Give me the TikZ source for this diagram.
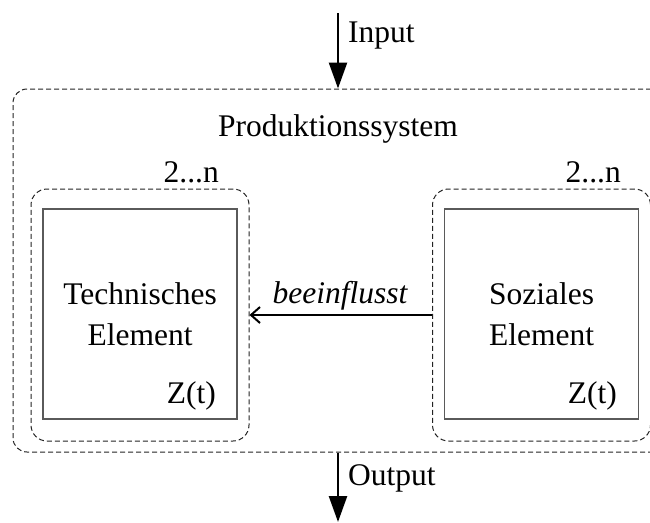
\documentclass[tikz,border=0pt]{standalone}
\usepackage{fontspec}
\setmainfont{Liberation Serif}
\newfontfamily\tnr{Liberation Serif}
\usetikzlibrary{arrows.meta}
\definecolor{boxgray}{RGB}{90,90,90}
\definecolor{dashgray}{RGB}{35,35,35}
\begin{document}
\begin{tikzpicture}[x=1pt,y=-1pt,
  every node/.style={font=\tnr\fontsize{31.5}{41}\selectfont, inner sep=0pt},
  elembox/.style={draw=boxgray, line width=1.5pt, minimum width=194pt, minimum height=210pt, align=center},
  groupframe/.style={draw=dashgray, line width=1pt, dash pattern=on 5pt off 3pt, rounded corners=16pt, minimum width=218pt, minimum height=252pt},
  sysframe/.style={draw=dashgray, line width=1pt, dash pattern=on 5pt off 3pt, rounded corners=14pt, minimum width=660pt, minimum height=363pt},
  flow/.style={line width=2.5pt, -{Triangle[length=26pt,width=18pt]}},
  influence/.style={line width=2pt, -{Straight Barb[length=9pt,width=16pt,line width=2pt]}}
]
\useasboundingbox (0,0) rectangle (650,522);
\node[sysframe] (system) at (343,270.5) {};
\node[anchor=base] (systitle) at (338,136) {Produktionssystem};
\node[groupframe] (techgroup) at (140,315) {};
\node[groupframe] (socgroup) at (541.5,315) {};
\node[elembox] (tech) at (140,314) {Technisches\\Element};
\node[elembox] (soc) at (541.5,314) {Soziales\\Element};
\node[anchor=base east] (technum) at (219,182) {2...n};
\node[anchor=base east] (socnum) at (621,182) {2...n};
\node[anchor=base east] (techz) at (216,403) {Z(t)};
\node[anchor=base east] (socz) at (617,403) {Z(t)};
\draw[influence] (socgroup.west) -- (techgroup.east);
\node[anchor=base, font=\tnr\fontsize{31.5}{41}\selectfont\itshape] (infl) at (340,303) {beeinflusst};
\coordinate (in) at (338,13);
\coordinate (out) at (338,522);
\draw[flow] (in) -- (in |- system.north);
\draw[flow] (out |- system.south) -- (out);
\node[anchor=base west] (inlabel) at (348,42) {Input};
\node[anchor=base west] (outlabel) at (348,485) {Output};
\end{tikzpicture}
\end{document}
